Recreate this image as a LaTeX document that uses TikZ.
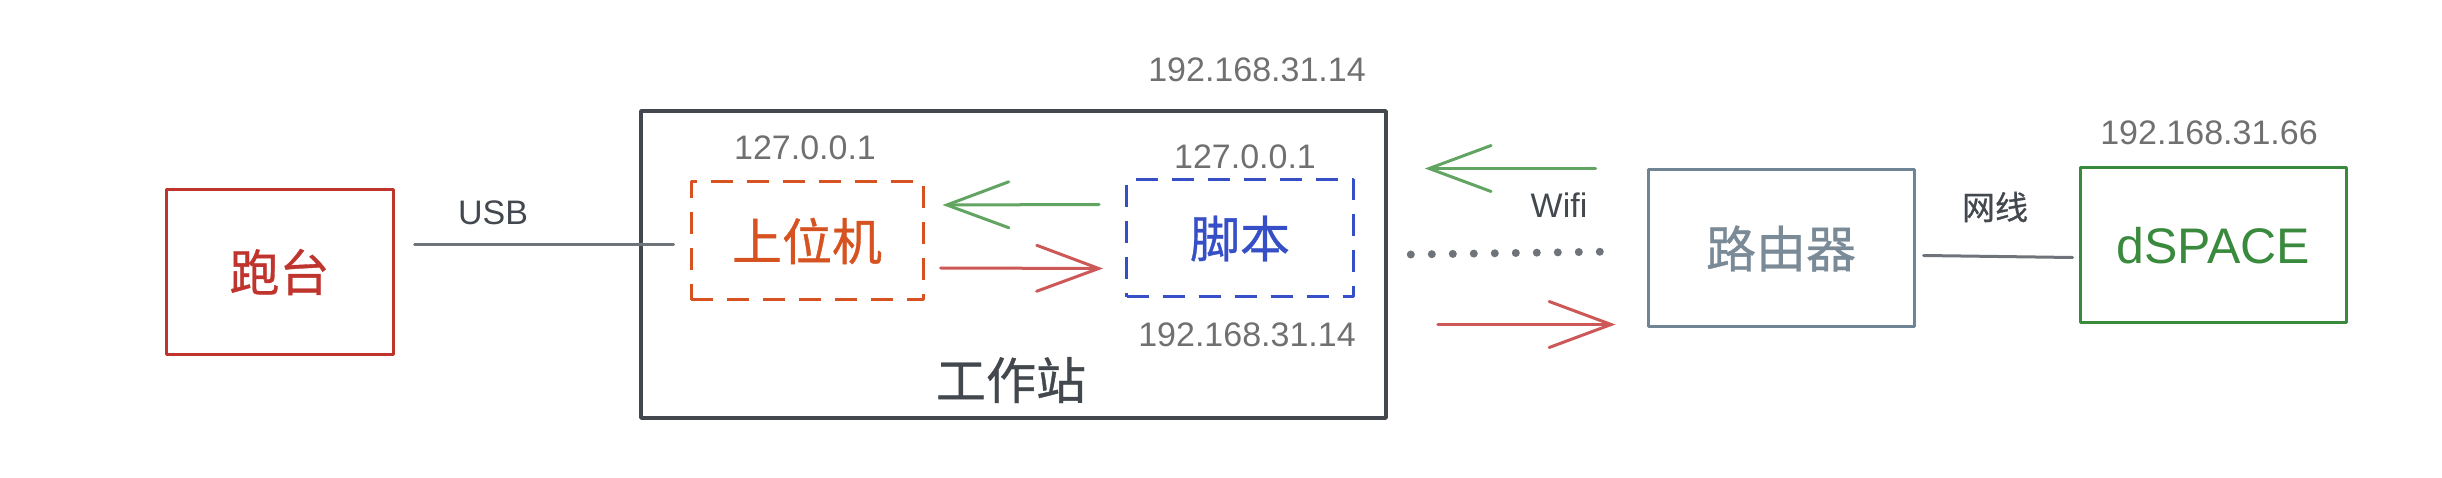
\documentclass[tikz,border=0pt]{standalone}
\usepackage{fontspec}
\setmainfont{Liberation Sans}
\newfontfamily\cjk[FakeBold=0.7]{Noto Sans CJK SC}
\usetikzlibrary{arrows.meta,calc}
\definecolor{ptred}{RGB}{192,52,46}
\definecolor{swor}{RGB}{214,82,32}
\definecolor{jbblue}{RGB}{54,79,199}
\definecolor{dsgreen}{RGB}{58,138,62}
\definecolor{rtgray}{RGB}{112,133,148}
\definecolor{rttext}{RGB}{122,138,150}
\definecolor{darkg}{RGB}{66,72,78}
\definecolor{ipgray}{RGB}{112,112,112}
\definecolor{arrred}{RGB}{204,88,88}
\definecolor{arrgreen}{RGB}{98,164,98}
\definecolor{lingray}{RGB}{110,116,122}
\begin{document}
\begin{tikzpicture}[x=1pt,y=-1pt,
  box/.style={draw, rectangle, line width=3pt, inner sep=0pt, line join=round},
  dbox/.style={box, dash pattern=on 22pt off 14pt},
  bigcjk/.style={font=\cjk\fontsize{50}{60}\selectfont},
  biglat/.style={font=\fontsize{50}{60}\selectfont},
  lbl/.style={inner sep=0pt, font=\fontsize{34}{40}\selectfont},
  lblcjk/.style={inner sep=0pt, font=\cjk\fontsize{33}{40}\selectfont},
  wire/.style={draw=lingray, line width=3pt, line cap=round},
  sarrow/.style={line width=3pt, line cap=round, line join=round,
    -{Straight Barb[length=62pt,width=46pt,line cap=round]}}
]
\useasboundingbox (0,0) rectangle (2442,478);
% boxes
\node[box, draw=ptred, text=ptred, bigcjk, minimum width=227pt, minimum height=164pt] (pt) at (279.5,272) {跑台};
\node[box, draw=darkg, line width=3.6pt, minimum width=745pt, minimum height=307pt] (ws) at (1013.5,264.5) {};
\node[dbox, draw=swor, text=swor, bigcjk, minimum width=232pt, minimum height=118pt] (sw) at (807,241) {上位机};
\node[dbox, draw=jbblue, text=jbblue, bigcjk, minimum width=227pt, minimum height=117pt] (jb) at (1240,238.5) {脚本};
\node[box, draw=rtgray, text=rttext, bigcjk, minimum width=266pt, minimum height=157pt] (rt) at (1781,248.5) {路由器};
\node[box, draw=dsgreen, text=dsgreen, biglat, minimum width=266pt, minimum height=155pt] (ds) at (2213,245.5) {dSPACE};
% labels
\node[lbl, text=darkg] (usb) at (493,213) {USB};
\node[lbl, text=ipgray] (ipws) at (1257,70) {192.168.31.14};
\node[lbl, text=ipgray] (iploa) at (805,148) {127.0.0.1};
\node[lbl, text=ipgray] (iplob) at (1245,157) {127.0.0.1};
\node[lbl, text=ipgray] (ipjb) at (1247,335) {192.168.31.14};
\node[inner sep=0pt, bigcjk, text=darkg] (wsl) at (1011,380) {工作站};
\node[lbl, text=darkg] (wifi) at (1559,205) {Wifi};
\node[lblcjk, text=darkg] (wx) at (1995,207) {网线};
\node[lbl, text=ipgray] (ipds) at (2209,133) {192.168.31.66};
% connectors
\draw[wire] ($(pt.east)+(20,-27)$) -- ($(sw.west)+(-16,4)$);
\draw[sarrow, draw=arrgreen] ($(jb.west)+(-26,-34)$) -- ($(sw.east)+(18,-36)$);
\draw[sarrow, draw=arrred] ($(sw.east)+(16,27)$) -- ($(jb.west)+(-22,30)$);
\draw[draw=lingray, line width=8pt, line cap=round, dash pattern=on 0pt off 21pt] ($(ws.east)+(23,-10)$) -- ($(rt.west)+(-29,3)$);
\draw[sarrow, draw=arrgreen] ($(rt.west)+(-51,-80)$) -- ($(ws.east)+(37,-96)$);
\draw[sarrow, draw=arrred] ($(ws.east)+(50,60)$) -- ($(rt.west)+(-31,76)$);
\draw[wire] ($(rt.east)+(8,7)$) -- ($(ds.west)+(-6,12)$);
\end{tikzpicture}
\end{document}
